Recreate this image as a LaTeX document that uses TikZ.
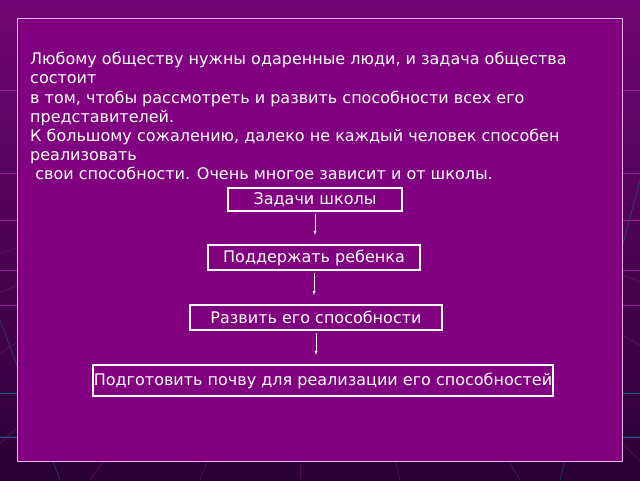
\documentclass[tikz,border=0pt]{standalone}
\usepackage{fontspec}
\setmainfont{DejaVu Sans}
\usetikzlibrary{arrows,shapes}
\definecolor{slide}{RGB}{128,0,128}
\definecolor{slidetop}{RGB}{112,6,116}
\definecolor{slidebottom}{RGB}{42,0,52}
\definecolor{gridpink}{RGB}{150,30,150}
\definecolor{gridblue}{RGB}{30,90,150}
\definecolor{framepink}{RGB}{230,180,230}
\tikzstyle{task}=[draw=white,line width=2pt,text=white,inner sep=1pt,font=\fontsize{16}{18}\selectfont]
\tikzstyle{link}=[draw=white,thin,-latex,shorten <=2pt,shorten >=9pt]

\begin{document}
\begin{tikzpicture}[x=1pt,y=1pt]
    \useasboundingbox (0,0) rectangle (640,480);
    % Background with the grid
    \shade[top color=slidetop,bottom color=slidebottom] (0,0) rectangle (640,480);
    \foreach \y in {390,307,260,210,175}
        \draw[gridpink,thin] (0,\y) -- (640,\y);
    \foreach \y in {87,43}
        \draw[gridblue,thin] (0,\y) -- (640,\y);
    \foreach \x in {-700,-420,-200,-40,90,200,300,400,520,660,860,1120}
        \draw[gridpink!70!slidebottom,thin] (320,330) -- (\x,0);
    \foreach \a/\b in {{(0,160)/(60,0)}, {(0,60)/(-40,0)}, {(640,300)/(560,0)}, {(640,160)/(690,0)}}
        \draw[gridblue,thin] \a -- \b;

    % The slide frame
    \node[draw=framepink,fill=slide,line width=0.8pt,minimum width=605,minimum height=443,inner sep=0pt] (frame) at (319.5,240.5) {};

    % Introductory text
    \node[anchor=north west,inner sep=0pt,align=left,text=white,font=\fontsize{16}{19.2}\selectfont] (intro) at (30,428) {%
        Любому обществу нужны одаренные люди, и задача общества\\
        состоит\\
        в том, чтобы рассмотреть и развить способности всех его\\
        представителей.\\
        К большому сожалению, далеко не каждый человек способен\\
        реализовать\\
        \ свои способности. Очень многое зависит и от школы.};

    % The boxes
    \foreach \pos/\name/\w/\h/\txt in {{(315,280.5)/b1/174/23/Задачи школы}, {(314,222.5)/b2/212/25/Поддержать ребенка}, {(316,162.5)/b3/252/25/Развить его способности}, {(323,99.5)/b4/458/31/Подготовить почву для реализации его способностей}}
        \node[task,minimum width=\w,minimum height=\h] (\name) at \pos {\txt};

    % Arrows between the boxes
    \foreach \source/ \dest in {b1/b2, b2/b3, b3/b4}
        \path[link] (\source.south) -- (\source.south |- \dest.north);
\end{tikzpicture}
\end{document}
